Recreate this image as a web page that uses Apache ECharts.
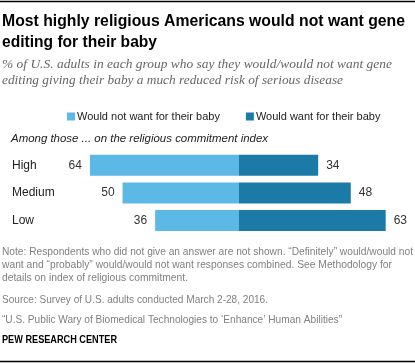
<!DOCTYPE html>
<html>
<head>
<meta charset="utf-8">
<script src="https://cdn.jsdelivr.net/npm/echarts@6/dist/echarts.min.js"></script>
<style>html,body{margin:0;padding:0;background:#fff}#c{width:415px;height:363px}</style>
</head>
<body>
<div id="c"></div>
<script>
const categories = ['High', 'Medium', 'Low'];
const notWant = [64, 50, 36];
const want = [34, 48, 63];
const seriesNames = ['Would not want for their baby', 'Would want for their baby'];
const titleLines = ['Most highly religious Americans would not want gene', 'editing for their baby'];
const subtitleLines = ['% of U.S. adults in each group who say they would/would not want gene', 'editing giving their baby a much reduced risk of serious disease'];
const groupLabel = 'Among those ... on the religious commitment index';
const noteLines = [
  'Note: Respondents who did not give an answer are not shown. \u201cDefinitely\u201d would/would not',
  'want and \u201cprobably\u201d would/would not want responses combined. See Methodology for',
  'details on index of religious commitment.'
];
const sourceLine = 'Source: Survey of U.S. adults conducted March 2-28, 2016.';
const reportLine = '\u201cU.S. Public Wary of Biomedical Technologies to \u2018Enhance\u2019 Human Abilities\u201d';
const brand = 'PEW RESEARCH CENTER';

const LIGHT = '#5cb8e4', DARK = '#1c7aa6';
const sans = '"Liberation Sans", Arial, sans-serif';
const serif = '"Liberation Serif", serif';

const mctx = document.createElement('canvas').getContext('2d');
function txt(text, x, y, font, fill, targetW) {
  let s = 1;
  if (targetW) {
    mctx.font = font;
    const w = mctx.measureText(text).width;
    if (w > 0) s = targetW / w;
  }
  return { type: 'text', x: x, y: y, scaleX: s, style: { x: 0, y: 0, text: text, font: font, fill: fill, textVerticalAlign: 'middle', textAlign: 'left' } };
}
const graphics = [
  { type: 'line', shape: { x1: 0, y1: 1.5, x2: 415, y2: 1.5 }, style: { stroke: '#000', lineWidth: 1.5 } },
  { type: 'line', shape: { x1: 0, y1: 361.5, x2: 415, y2: 361.5 }, style: { stroke: '#000', lineWidth: 1.5 } },
  txt(titleLines[0], 2, 21, 'bold 17px ' + sans, '#000', 403),
  txt(titleLines[1], 2, 42, 'bold 17px ' + sans, '#000', 155),
  txt(subtitleLines[0], 2, 65, 'italic 13px ' + serif, '#666', 390),
  txt(subtitleLines[1], 2, 81, 'italic 13px ' + serif, '#666', 341),
  txt(groupLabel, 11, 139, 'italic 11.5px ' + sans, '#222', 257),
  txt(noteLines[0], 2, 252, '11px ' + sans, '#808080', 411),
  txt(noteLines[1], 2, 265, '11px ' + sans, '#808080', 390),
  txt(noteLines[2], 2, 278, '11px ' + sans, '#808080', 186),
  txt(sourceLine, 2, 300, '11px ' + sans, '#808080', 266),
  txt(reportLine, 2, 320, '11px ' + sans, '#808080', 340),
  txt(brand, 2, 340, 'bold 11px ' + sans, '#000', 115)
];

const chart = echarts.init(document.getElementById('c'), null, { renderer: 'canvas' });
chart.setOption({
  animation: false,
  graphic: graphics,
  legend: {
    left: 62, top: 106, itemWidth: 8, itemHeight: 8, itemGap: 26,
    icon: 'rect',
    textStyle: { fontFamily: sans, fontSize: 11, color: '#222', padding: [0, 0, 0, -3] },
    data: seriesNames
  },
  grid: { left: 76, right: 13, top: 151.5, height: 82.8, containLabel: false },
  xAxis: { type: 'value', min: -70, max: 70, show: false },
  yAxis: {
    type: 'category', data: categories, inverse: true,
    axisLine: { show: false }, axisTick: { show: false },
    axisLabel: { align: 'left', margin: 64, fontFamily: sans, fontSize: 12, color: '#222' }
  },
  series: [
    {
      name: seriesNames[0], type: 'bar', stack: 'a', barWidth: 21,
      itemStyle: { color: LIGHT },
      data: notWant.map(v => -v),
      label: { show: true, position: 'left', distance: 8, fontFamily: sans, fontSize: 12, color: '#333', formatter: p => Math.abs(p.value) }
    },
    {
      name: seriesNames[1], type: 'bar', stack: 'a', barWidth: 21,
      itemStyle: { color: DARK },
      data: want,
      label: { show: true, position: 'right', distance: 8, fontFamily: sans, fontSize: 12, color: '#333' }
    }
  ]
});
</script>
</body>
</html>
